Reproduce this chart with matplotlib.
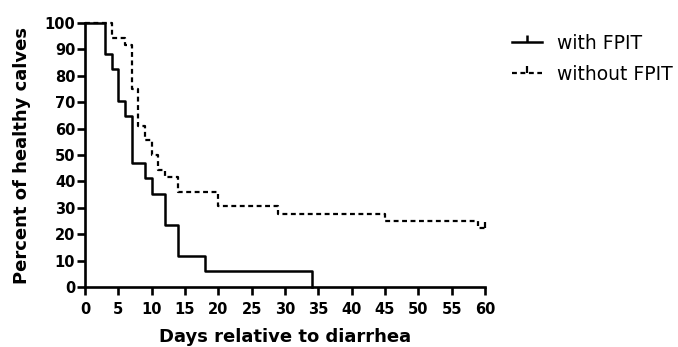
import matplotlib
matplotlib.use('Agg')
import matplotlib.pyplot as plt
from matplotlib.lines import Line2D

plt.rcParams['font.family'] = ['DejaVu Sans']

# Kaplan-Meier style step data (percent healthy)
with_days = [0, 3, 4, 5, 6, 7, 9, 10, 12, 14, 18, 34]
with_pct = [100, 88.2, 82.4, 70.6, 64.7, 47.1, 41.2, 35.3, 23.5, 11.8, 5.9, 0]

without_days = [0, 4, 6, 7, 8, 9, 10, 11, 12, 14, 20, 29, 45, 59, 60]
without_pct = [100, 94.4, 91.7, 75.0, 61.1, 55.6, 50.0, 44.4, 41.7, 36.1, 30.6, 27.8, 25.0, 22.2, 22.2]
censor_days = [60]
censor_pct = [22.2]

x_ticks = list(range(0, 61, 5))
y_ticks = list(range(0, 101, 10))

fig = plt.figure(figsize=(6.78, 3.47), dpi=100)
ax = fig.add_axes([85 / 678, 1 - 287 / 347, 400 / 678, 264 / 347])

ax.step(without_days, without_pct, where='post', color='black', lw=1.6,
        linestyle=(0, (2.2, 1.6)), clip_on=False, zorder=2)
ax.plot(censor_days, censor_pct, marker=2, color='black', ms=4, mew=1.6,
        linestyle='none', clip_on=False)
ax.step(with_days, with_pct, where='post', color='black', lw=1.8,
        clip_on=False, zorder=3)

ax.set_xlim(0, 60)
ax.set_ylim(0, 100)
ax.set_xticks(x_ticks)
ax.set_yticks(y_ticks)
for s in ['top', 'right']:
    ax.spines[s].set_visible(False)
for s in ['left', 'bottom']:
    ax.spines[s].set_linewidth(1.9)
ax.tick_params(width=1.9, length=6, labelsize=10.5)
ax.tick_params(axis='x', pad=5)
ax.tick_params(axis='y', pad=1)
for lab in ax.get_xticklabels() + ax.get_yticklabels():
    lab.set_fontweight('bold')

ax.set_xlabel('Days relative to diarrhea', fontsize=13, fontweight='bold', labelpad=8)
ax.set_ylabel('Percent of healthy calves', fontsize=13, fontweight='bold', labelpad=10)

handles = [
    Line2D([0], [0], color='black', lw=1.8, marker=2, ms=5, mew=1.8),
    Line2D([0], [0], color='black', lw=1.6, linestyle=(0, (2.2, 1.6)), marker=2, ms=5, mew=1.6),
]
fig.legend(handles, ['with FPIT', 'without FPIT'], loc='upper left',
           bbox_to_anchor=(495 / 678, 1 - 17 / 347), frameon=False,
           fontsize=13.5, handlelength=1.6, handletextpad=0.8, labelspacing=0.62,
           numpoints=1)

fig.savefig('out.png', dpi=100)
